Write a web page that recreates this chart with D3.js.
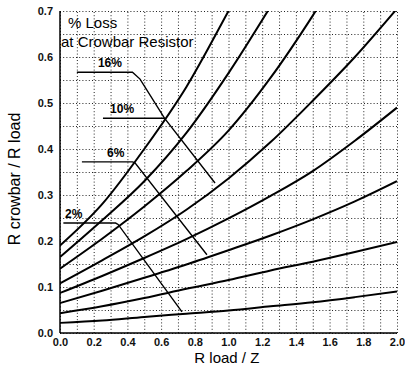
<!DOCTYPE html>
<meta charset="utf-8">
<style>
  body { margin: 0; background: #fff; }
  svg { font-family: "Liberation Sans", Arial, sans-serif; }
  .grid line { stroke: #222; stroke-dasharray: 1,2.2; stroke-width: 1; }
  .grid path { display: none; }
  .tick-labels path, .tick-labels line { display: none; }
  .tick-labels text { font-size: 11px; font-weight: bold; fill: #111; }
  .curve { fill: none; stroke: #000; stroke-width: 2; }
  .contour { fill: none; stroke: #000; stroke-width: 1.4; }
  .pct { font-size: 12px; font-weight: bold; }
</style>
<svg width="405" height="366"></svg>
<script src="https://d3js.org/d3.v7.min.js"></script>
<script>

// x positions where the curves were read
var xs = [0, 0.25, 0.5, 0.75, 1.0, 1.25, 1.5, 1.75, 2.0];

// R crowbar / R load for each curve (bottom to top), null past the top edge
var curve1 = [0.022, 0.027, 0.035, 0.042, 0.049, 0.058, 0.067, 0.078, 0.090];
var curve2 = [0.043, 0.058, 0.076, 0.096, 0.115, 0.136, 0.155, 0.176, 0.198];
var curve3 = [0.065, 0.092, 0.120, 0.149, 0.180, 0.212, 0.247, 0.286, 0.330];
var curve4 = [0.087, 0.124, 0.163, 0.204, 0.249, 0.298, 0.352, 0.418, 0.490];
var curve5 = [0.108, 0.158, 0.210, 0.268, 0.336, 0.415, 0.505, 0.600, 0.705];
var curve6 = [0.140, 0.205, 0.275, 0.352, 0.440, 0.555, 0.690, 0.840, null];
var curve7 = [0.165, 0.245, 0.330, 0.435, 0.565, 0.710, null, null, null];
var curve8 = [0.190, 0.280, 0.400, 0.535, 0.700, 0.870, null, null, null];
var curves = [curve1, curve2, curve3, curve4, curve5, curve6, curve7, curve8];

// % loss lines (leader + contour), in data units
var loss16 = [[0.10, 0.567], [0.43, 0.567], [0.475, 0.552], [0.62, 0.467], [0.92, 0.326]];
var loss10 = [[0.255, 0.467], [0.62, 0.467]];
var loss6 = [[0.13, 0.372], [0.43, 0.372], [0.445, 0.370], [0.872, 0.170]];
var loss2 = [[0.02, 0.239], [0.33, 0.239], [0.345, 0.236], [0.724, 0.046]];
var lossLines = [loss16, loss10, loss6, loss2];
var lossLabels = ["16%", "10%", "6%", "2%"];
var lossLabelX = [0.225, 0.297, 0.279, 0.03];

var yTicks = [0, 0.1, 0.2, 0.3, 0.4, 0.5, 0.6, 0.7];
var xTicks = [0, 0.2, 0.4, 0.6, 0.8, 1.0, 1.2, 1.4, 1.6, 1.8, 2.0];

var svg = d3.select("svg"),
    margin = {top: 11, right: 8, bottom: 33, left: 60},
    width = +svg.attr("width") - margin.left - margin.right,
    height = +svg.attr("height") - margin.top - margin.bottom,
    g = svg.append("g").attr("transform", "translate(" + margin.left + "," + margin.top + ")");

var x = d3.scaleLinear().domain([0, 2]).range([0, width]);
var y = d3.scaleLinear().domain([0, 0.7]).range([height, 0]);

// dotted grid
g.append("g")
    .attr("class", "grid")
    .attr("transform", "translate(0," + height + ")")
    .call(d3.axisBottom(x).tickValues(d3.range(0, 21).map(function(i) { return i / 10; }))
        .tickSize(-height).tickFormat(""));

g.append("g")
    .attr("class", "grid")
    .call(d3.axisLeft(y).tickValues(d3.range(0, 15).map(function(i) { return i * 0.05; }))
        .tickSize(-width).tickFormat(""));

// solid left and bottom axis lines
g.append("line").attr("x1", 0).attr("x2", 0).attr("y1", 0).attr("y2", height)
    .attr("stroke", "#000").attr("stroke-width", 1.5);
g.append("line").attr("x1", 0).attr("x2", width).attr("y1", height).attr("y2", height)
    .attr("stroke", "#000").attr("stroke-width", 1.5);

g.append("g")
    .attr("class", "tick-labels")
    .call(d3.axisLeft(y).tickValues(yTicks).tickSize(0).tickPadding(7).tickFormat(d3.format(".1f")));

g.append("g")
    .attr("class", "tick-labels")
    .attr("transform", "translate(0," + height + ")")
    .call(d3.axisBottom(x).tickValues(xTicks).tickSize(0).tickPadding(5).tickFormat(d3.format(".1f")));

svg.append("defs").append("clipPath").attr("id", "plot")
    .append("rect").attr("width", width).attr("height", height);

var line = d3.line()
    .x(function(d) { return x(d[0]); })
    .y(function(d) { return y(d[1]); })
    .curve(d3.curveMonotoneX);

var plot = g.append("g").attr("clip-path", "url(#plot)");

plot.selectAll(".curve")
    .data(curves)
    .enter().append("path")
    .attr("class", "curve")
    .attr("d", function(c) {
        // one point past the top edge is kept so the curve reaches it
        var pts = [];
        for (var i = 0; i < xs.length; i++) {
            if (c[i] == null) break;
            pts.push([xs[i], c[i]]);
        }
        return line(pts);
    });

var straight = d3.line()
    .x(function(d) { return x(d[0]); })
    .y(function(d) { return y(d[1]); });

plot.selectAll(".contour")
    .data(lossLines)
    .enter().append("path")
    .attr("class", "contour")
    .attr("d", straight);

g.selectAll(".pct")
    .data(lossLines)
    .enter().append("text")
    .attr("class", "pct")
    .attr("x", function(d, i) { return x(lossLabelX[i]); })
    .attr("y", function(d) { return y(d[0][1]) - 5; })
    .text(function(d, i) { return lossLabels[i]; });

// title inside the plot
g.append("text").attr("x", 8).attr("y", 17)
    .style("font-size", "15px").text("% Loss");
g.append("text").attr("x", 1).attr("y", 36)
    .style("font-size", "15px").text("at Crowbar Resistor");

// axis titles
svg.append("text")
    .attr("x", margin.left + x(0.99))
    .attr("y", 363)
    .attr("text-anchor", "middle")
    .style("font-size", "15px")
    .text("R load / Z");

svg.append("text")
    .attr("transform", "translate(20," + (margin.top + y(0.335)) + ") rotate(-90)")
    .attr("text-anchor", "middle")
    .style("font-size", "16px")
    .text("R crowbar / R load");

</script>
